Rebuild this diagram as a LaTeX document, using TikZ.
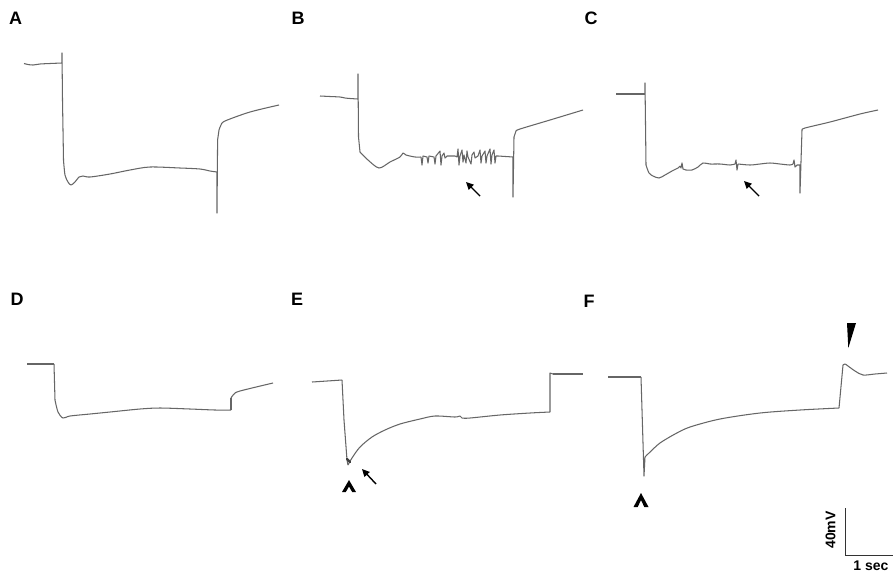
\documentclass[tikz,border=0pt]{standalone}
\usepackage{fontspec}
\setmainfont{Liberation Sans}
\usetikzlibrary{arrows.meta}
\begin{document}
\begin{tikzpicture}[x=1pt,y=-1pt,
  trace/.style={draw=black!60,line width=1.05pt,line join=round},
  noisy/.style={trace},
  panlabel/.style={font=\fontsize{18}{21}\selectfont\bfseries,inner sep=0pt},
  scaletext/.style={font=\fontsize{14}{17}\selectfont\bfseries,inner sep=0pt},
  pointer/.style={line width=1.4pt,-{Triangle[length=7.5pt,width=7pt]}},
  caretmark/.style={fill=black,draw=none}]
\useasboundingbox (0,0) rectangle (893,574);
\fill[white] (0,0) rectangle (893,574);

% panel labels
\node[panlabel] (lA) at (15.5,18.5) {A};
\node[panlabel] (lB) at (298,18.5) {B};
\node[panlabel] (lC) at (591,18.5) {C};
\node[panlabel] (lD) at (17,299.5) {D};
\node[panlabel] (lE) at (297,299.5) {E};
\node[panlabel] (lF) at (589,301.5) {F};

% ---------- A ----------
\draw[noisy] plot[smooth] coordinates {(24,63.5)(28,64.5)(33,65)(40,64)(50,63.5)(62,63)};
\draw[trace] (62,63) -- (62,53) -- (62.5,100) -- (63.5,160);
\draw[noisy] plot[smooth] coordinates {(63.5,160)(65,175)(68,182)(71,185)(75,182)(79,177)(83,176)(90,177)(110,174)(130,170)(150,167)(180,168)(200,169)(210,171)(217,172)};
\draw[trace] (217,172) -- (217,213) -- (217.6,140) -- (219,130);
\draw[noisy] plot[smooth] coordinates {(219,130)(221,125)(225,121)(250,112)(279,105)};

% ---------- B ----------
\draw[noisy] plot[smooth] coordinates {(320,96)(330,96.5)(340,97)(345,98)(350,98.5)(358,99)};
\draw[trace] (358,99) -- (358,74) -- (358.5,137) -- (360,152);
\draw[noisy] plot[smooth] coordinates {(360,152)(368,160)(379,168)(390,162)(400,157)(403,153)(406,155)(415,157)(421,157)};
\draw[trace] (421,157) -- (422,165) -- (423,156) -- (427,157) -- (428,163) -- (429,156) -- (434,157) -- (435,164) -- (436,156)
  -- (440,151) -- (441,165) -- (442,156) -- (444,153) -- (445,158) -- (447,156) -- (455,156) -- (457,157)
  -- (458,149) -- (459,165) -- (460,156) -- (462,150) -- (463,162) -- (464,155) -- (466,163) -- (467,151) -- (468,157)
  -- (471,164) -- (472,155) -- (474,152) -- (475,158) -- (478,156) -- (480,150) -- (481,163) -- (482,156)
  -- (485,151) -- (486,163) -- (487,156) -- (490,149) -- (491,164) -- (492,155) -- (494,150) -- (495,163) -- (496,156) -- (498,156);
\draw[noisy] (498,156) -- (513,157);
\draw[trace] (513,157) -- (513,197) -- (514,137) -- (516,131);
\draw[noisy] plot[smooth] coordinates {(516,131)(520,129)(550,120)(583,110)};
\coordinate (bT) at (480,196);
\coordinate (bH) at (466,182);
\draw[pointer] (bT) -- (bH);

% ---------- C ----------
\draw[noisy] (616,94) -- (645,94);
\draw[trace] (645,94) -- (645,83) -- (646,165);
\draw[noisy] plot[smooth] coordinates {(646,165)(649,173)(653,176)(659,178)(665,175)(672,171)(678,168)(680,166)};
\draw[trace] (680,166) -- (681,168) -- (682,163) -- (683,169) -- (686,170);
\draw[noisy] plot[smooth] coordinates {(686,170)(692,170)(698,167)(703,163)(710,164)(720,164)(730,165)(735,164)};
\draw[trace] (735,164) -- (736,160) -- (737,170) -- (738,164);
\draw[noisy] plot[smooth] coordinates {(738,164)(750,165)(760,164)(770,163)(780,164)(790,165)(793,164)};
\draw[trace] (793,164) -- (794,160) -- (795,167) -- (797,165) -- (800,165) -- (800,193) -- (802,130);
\draw[noisy] plot[smooth] coordinates {(802,130)(805,128)(830,122)(860,114)(878,110)};
\coordinate (cT) at (759,196);
\coordinate (cH) at (744,181);
\draw[pointer] (cT) -- (cH);

% ---------- D ----------
\draw[noisy] (27,364) -- (54,364);
\draw[trace] (54,364) -- (55,400);
\draw[noisy] plot[smooth] coordinates {(55,400)(58,412)(63,418)(70,416)(90,414)(110,412)(140,409)(160,408)(190,409)(215,410)(231,410)};
\draw[trace] (231,410) -- (231,398);
\draw[noisy] plot[smooth] coordinates {(231,398)(234,394)(240,391)(273,383)};

% ---------- E ----------
\draw[noisy] (312,382) -- (342,380);
\draw[trace] (342,380) -- (344,420) -- (347,460) -- (348,465);
\draw[noisy] plot[smooth] coordinates {(348,465)(352,458)(360,447)(372,437)(385,430)(400,424)(420,419)(435,416)(455,417)(460,416)(462,418)(470,418)(500,415)(530,413)(550,412)};
\draw[trace] (550,412) -- (550,373) -- (553,374);
\draw[noisy] (553,374) -- (583,374);
\draw[black!75,line width=2.2pt,line cap=round] (347,459) -- (350,462);
\fill[caretmark] (349,480) -- (356,492) -- (352.2,492) -- (349,486.5) -- (345.8,492) -- (342,492) -- cycle;
\coordinate (eT) at (376,484);
\coordinate (eH) at (362,469);
\draw[pointer] (eT) -- (eH);

% ---------- F ----------
\draw[noisy] (608,377) -- (641,377);
\draw[trace] (641,377) -- (644,476) -- (645,457);
\draw[noisy] plot[smooth] coordinates {(645,457)(650,452)(660,443)(675,434)(690,427)(720,419)(760,413)(800,410)(839,408)};
\draw[trace] (839,408) -- (843,365);
\draw[noisy] plot[smooth] coordinates {(843,365)(845,364)(848,366)(855,371)(863,375)(875,374)(887,373)};
\fill[caretmark] (641,493) -- (648.5,507) -- (644.3,507) -- (641,500) -- (637.7,507) -- (633.5,507) -- cycle;
\fill[black] (847,323) -- (856,323) -- (848.3,348) -- cycle;

% ---------- scale bar ----------
\coordinate (sTop) at (845,508);
\coordinate (sCorner) at (845,555);
\coordinate (sRight) at (893,555);
\draw[black!80,line width=1pt] (sTop) -- (sCorner) -- (sRight);
\node[scaletext,rotate=90] (mv) at (830.5,530) {40mV};
\node[scaletext] (sec) at (871,566) {1 sec};
\end{tikzpicture}
\end{document}
